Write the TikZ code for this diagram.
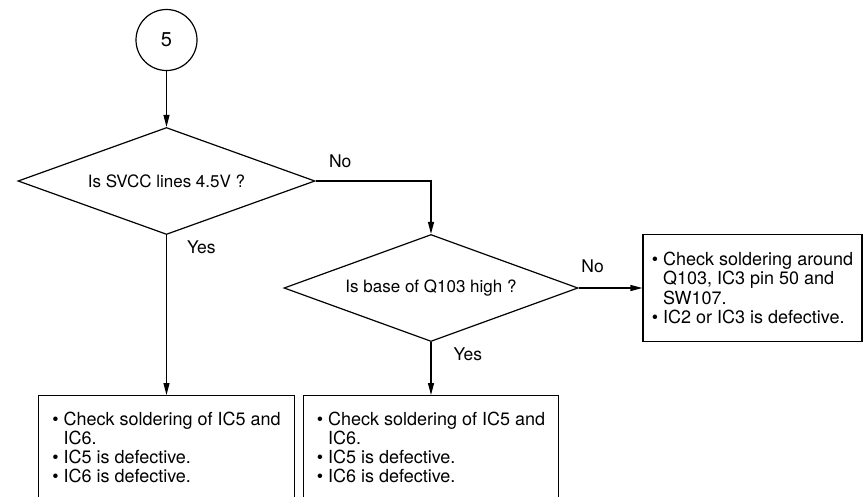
\documentclass[tikz,border=0pt]{standalone}
\usepackage{fontspec}
\setmainfont{TeX Gyre Heros}
\usetikzlibrary{arrows.meta,positioning,shapes.geometric}
\newcommand{\blt}{\textbullet\ }
\newcommand{\bltgap}{\phantom{\textbullet\ }}

\begin{document}
\begin{tikzpicture}[
  x=1pt, y=-1pt,
  font=\fontsize{17}{19}\selectfont,
  line width=1.2pt,
  conn/.style={draw, circle, inner sep=0pt, minimum size=61pt, font=\fontsize{20}{20}\selectfont},
  dec/.style={draw, diamond, shape aspect=2.75, inner sep=0pt, minimum height=107pt},
  box/.style={draw, rectangle, inner sep=0pt},
  txt/.style={align=left, inner sep=0pt, font=\fontsize{18}{19.3}\selectfont},
  ar/.style={-{Triangle[length=12pt, width=6pt]}},
  lbl/.style={inner sep=0pt, font=\fontsize{17.5}{19}\selectfont},
]
\useasboundingbox (0,0) rectangle (863,496);
\clip (0,0) rectangle (863,496);
% connector and decisions
\node[conn] (c5) at (166.5,40) {5};
\node[dec, minimum width=297pt] (dSvcc) at (166.5,181) {Is SVCC lines 4.5V ?};
\node[dec, minimum width=294pt] (dBase) at (431,288) {Is base of Q103 high ?};
% result boxes (bottom ones run off the page)
\node[box, txt, minimum width=219pt, minimum height=107pt] (bQ103) at (752.5,288) {\blt Check soldering around\\\bltgap Q103, IC3 pin 50 and\\\bltgap SW107.\\\blt IC2 or IC3 is defective.};
\node[box, minimum width=256pt, minimum height=130pt, anchor=north] (bLeft) at (166.5,395) {};
\node[txt, below=16pt of bLeft.north] (tLeft) {\blt Check soldering of IC5 and\\\bltgap IC6.\\\blt IC5 is defective.\\\blt IC6 is defective.};
\node[box, minimum width=255pt, minimum height=130pt, anchor=north] (bRight) at (431,395) {};
\node[txt, below=16pt of bRight.north] (tRight) {\blt Check soldering of IC5 and\\\bltgap IC6.\\\blt IC5 is defective.\\\blt IC6 is defective.};
% flow
\draw[ar] (c5) -- (dSvcc);
\draw[ar] (dSvcc.east) -| node[lbl, pos=0.107, above=13pt] {No} (dBase.north);
\draw[ar] (dSvcc.south) -- node[lbl, pos=0.075, right=20pt] {Yes} (bLeft.north);
\draw[ar] (dBase.east) -- node[lbl, pos=0.22, above=15pt] {No} (bQ103.west);
\draw[ar] (dBase.south) -- node[lbl, pos=0.23, right=22pt] {Yes} (bRight.north);
\end{tikzpicture}
\end{document}
